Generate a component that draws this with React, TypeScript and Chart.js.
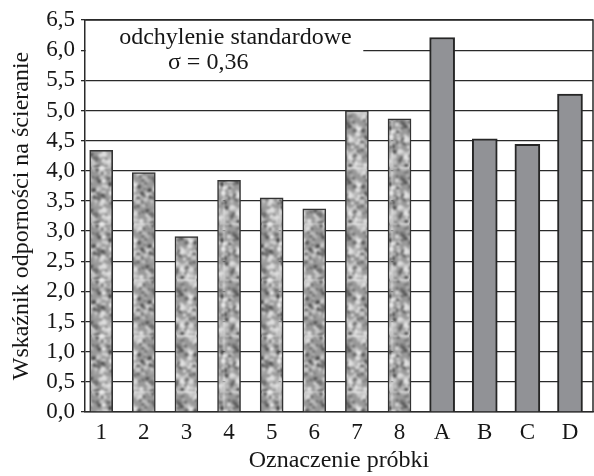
import { useEffect, useRef } from "react";
import { Chart, registerables } from "chart.js";

Chart.register(...registerables);

const categories = ["1", "2", "3", "4", "5", "6", "7", "8", "A", "B", "C", "D"];
const texturedValues = [4.34, 3.97, 2.91, 3.84, 3.55, 3.37, 5.0, 4.86];
const solidValues = [6.21, 4.53, 4.44, 5.27];
const yTickLabels = ["0,0", "0,5", "1,0", "1,5", "2,0", "2,5", "3,0", "3,5", "4,0", "4,5", "5,0", "5,5", "6,0", "6,5"];
const noteLines = ["odchylenie standardowe", "σ = 0,36"];
const yTitle = "Wskaźnik odporności na ścieranie";
const xTitle = "Oznaczenie próbki";

const FONT = '"Liberation Serif", "Times New Roman", serif';
const INK = "#161616";

function makeTexture(): CanvasPattern | string {
  const size = 56;
  const c = document.createElement("canvas");
  c.width = size;
  c.height = size;
  const g = c.getContext("2d");
  if (!g) return "#a0a0a0";
  g.fillStyle = "#999999";
  g.fillRect(0, 0, size, size);
  let s = 424242;
  const rnd = () => {
    s = (s * 1103515245 + 12345) & 0x7fffffff;
    return s / 0x7fffffff;
  };
  for (let i = 0; i < 300; i++) {
    const x = rnd() * size;
    const y = rnd() * size;
    const light = rnd() < 0.52;
    const r = light ? 0.9 + rnd() * 2.2 : 0.7 + rnd() * 1.6;
    const shade = light ? 175 + Math.floor(rnd() * 60) : 65 + Math.floor(rnd() * 55);
    g.fillStyle = `rgb(${shade},${shade},${shade})`;
    for (const dx of [-size, 0, size]) {
      for (const dy of [-size, 0, size]) {
        g.beginPath();
        g.arc(x + dx, y + dy, r, 0, Math.PI * 2);
        g.fill();
      }
    }
  }
  const c2 = document.createElement("canvas");
  c2.width = size;
  c2.height = size;
  const g2 = c2.getContext("2d");
  if (!g2) return "#a0a0a0";
  g2.filter = "blur(0.9px)";
  for (const dx of [-1, 0, 1]) {
    for (const dy of [-1, 0, 1]) {
      g2.drawImage(c, dx * size, dy * size);
    }
  }
  const p = g2.createPattern(c2, "repeat");
  return p || "#a0a0a0";
}

const framePlugin = {
  id: "frameAndNote",
  afterDraw(chart: any) {
    const { ctx, chartArea, scales } = chart;
    const xs = scales.x;
    const ys = scales.y;
    ctx.save();
    const boxLeft = chartArea.left + 1;
    const boxRight = xs.getPixelForValue(6.15);
    const boxTop = ys.getPixelForValue(6.42);
    const boxBottom = ys.getPixelForValue(5.63);
    ctx.fillStyle = "#ffffff";
    ctx.fillRect(boxLeft, boxTop, boxRight - boxLeft, boxBottom - boxTop);
    ctx.strokeStyle = "#2a2a2a";
    ctx.lineWidth = 1.5;
    ctx.beginPath();
    ctx.moveTo(chartArea.left, chartArea.top);
    ctx.lineTo(chartArea.right, chartArea.top);
    ctx.lineTo(chartArea.right, chartArea.bottom);
    ctx.stroke();
    ctx.fillStyle = INK;
    ctx.font = `24px ${FONT}`;
    ctx.textAlign = "center";
    ctx.textBaseline = "middle";
    ctx.fillText(noteLines[0], xs.getPixelForValue(3.15), ys.getPixelForValue(6.2));
    ctx.fillText(noteLines[1], xs.getPixelForValue(2.51), ys.getPixelForValue(5.8));
    ctx.restore();
  },
};

export default function App() {
  const ref = useRef<HTMLCanvasElement | null>(null);

  useEffect(() => {
    document.body.style.margin = "0";
    const canvas = ref.current;
    if (!canvas) return;
    const texture = makeTexture();
    const chart = new Chart(canvas, {
      type: "bar",
      data: {
        datasets: [
          {
            label: "textured",
            data: texturedValues.map((v, i) => ({ x: i, y: v })),
            backgroundColor: texture as any,
            borderColor: "#333333",
            borderWidth: 1.5,
            barThickness: 23,
            grouped: false,
          } as any,
          {
            label: "solid",
            data: solidValues.map((v, i) => ({ x: i + texturedValues.length, y: v })),
            backgroundColor: "#919296",
            borderColor: "#262626",
            borderWidth: 2,
            barThickness: 25,
            grouped: false,
          } as any,
        ],
      },
      options: {
        animation: false,
        responsive: true,
        maintainAspectRatio: false,
        layout: { padding: { top: 20, right: 1, left: 0, bottom: 0 } },
        plugins: {
          legend: { display: false },
          tooltip: { enabled: false },
        },
        scales: {
          x: {
            type: "linear",
            bounds: "data",
            offset: false,
            min: -0.38,
            max: 11.54,
            afterBuildTicks: (scale: any) => {
              scale.ticks = categories.map((_, i) => ({ value: i }));
            },
            afterFit: (scale: any) => {
              scale.height = 64;
            },
            grid: { display: false, drawTicks: false, offset: false },
            border: { display: true, color: "#2a2a2a", width: 1.5 },
            ticks: {
              autoSkip: false,
              maxRotation: 0,
              padding: 7,
              color: INK,
              font: { family: FONT, size: 23 },
              callback: (v: any) => categories[Math.round(Number(v))] ?? "",
            },
            title: {
              display: true,
              text: xTitle,
              color: INK,
              font: { family: FONT, size: 24 },
              padding: { top: 0, bottom: 1 },
            },
          },
          y: {
            min: 0,
            max: 6.5,
            afterFit: (scale: any) => {
              scale.width = 85;
            },
            grid: { color: "#2a2a2a", lineWidth: 1.3, tickLength: 4 },
            border: { display: true, color: "#2a2a2a", width: 1.5 },
            ticks: {
              stepSize: 0.5,
              autoSkip: false,
              padding: 6,
              color: INK,
              font: { family: FONT, size: 23 },
              callback: (v: any) => yTickLabels[Math.round(Number(v) * 2)] ?? "",
            },
            title: {
              display: true,
              text: yTitle,
              color: INK,
              font: { family: FONT, size: 24 },
              padding: { top: 7, bottom: 0 },
            },
          },
        },
      },
      plugins: [framePlugin],
    });
    return () => chart.destroy();
  }, []);

  return (
    <div style={{ position: "relative", width: 594, height: 476 }}>
      <canvas ref={ref} />
    </div>
  );
}
